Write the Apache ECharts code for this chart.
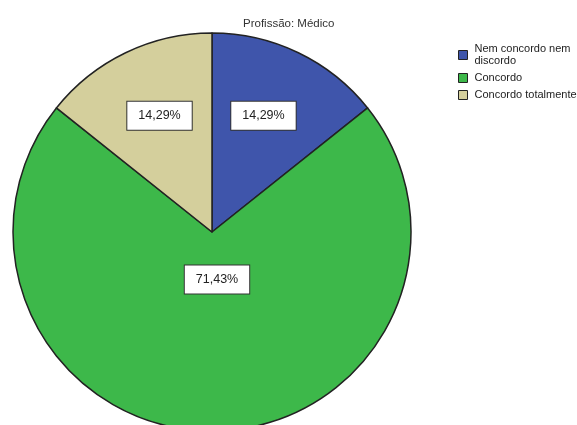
<!DOCTYPE html>
<html>
<head>
<meta charset="utf-8">
<script src="https://cdn.jsdelivr.net/npm/echarts@6/dist/echarts.min.js"></script>
<style>
  html, body { margin: 0; padding: 0; background: #fff; }
  #chart { width: 577px; height: 425px; }
</style>
</head>
<body>
<div id="chart"></div>
<script>
// Response categories and their shares (%)
var categories = ['Nem concordo nem\ndiscordo', 'Concordo', 'Concordo totalmente'];
var shares = [14.29, 71.43, 14.29];
var sliceColors = ['#3F55AB', '#3DB84A', '#D4CF9C'];
// Nudges for the boxed value labels, per slice
var labelOffsets = [[7, -24], [5, -55], [-8, -24]];

var chart = echarts.init(document.getElementById('chart'), null, { renderer: 'canvas' });

var data = categories.map(function (name, i) {
  return {
    name: name,
    value: shares[i],
    itemStyle: { color: sliceColors[i] },
    label: { offset: labelOffsets[i] }
  };
});

chart.setOption({
  animation: false,
  title: {
    text: 'Profissão: Médico',
    left: 238,
    top: 13,
    textStyle: { fontFamily: 'Liberation Sans, Arial, sans-serif', fontSize: 11.5, fontWeight: 'normal', color: '#333' }
  },
  legend: {
    orient: 'vertical',
    left: 453,
    top: 38,
    itemWidth: 9,
    itemHeight: 9,
    itemGap: 5,
    icon: 'rect',
    itemStyle: { borderColor: '#222', borderWidth: 1 },
    textStyle: { fontFamily: 'Liberation Sans, Arial, sans-serif', fontSize: 11, color: '#222', lineHeight: 12, padding: [0, 0, 0, 2] },
    data: categories
  },
  series: [{
    type: 'pie',
    center: [212, 232],
    radius: 199,
    startAngle: 90,
    clockwise: true,
    silent: true,
    itemStyle: { borderColor: '#222', borderWidth: 1.5 },
    label: {
      show: true,
      position: 'inside',
      formatter: function (p) { return p.value.toFixed(2).replace('.', ',') + '%'; },
      fontFamily: 'Liberation Sans, Arial, sans-serif',
      fontSize: 12.5,
      color: '#222',
      backgroundColor: '#fff',
      borderColor: '#333',
      borderWidth: 1,
      padding: [8, 11, 7, 11]
    },
    labelLine: { show: false },
    data: data
  }]
});
</script>
</body>
</html>
